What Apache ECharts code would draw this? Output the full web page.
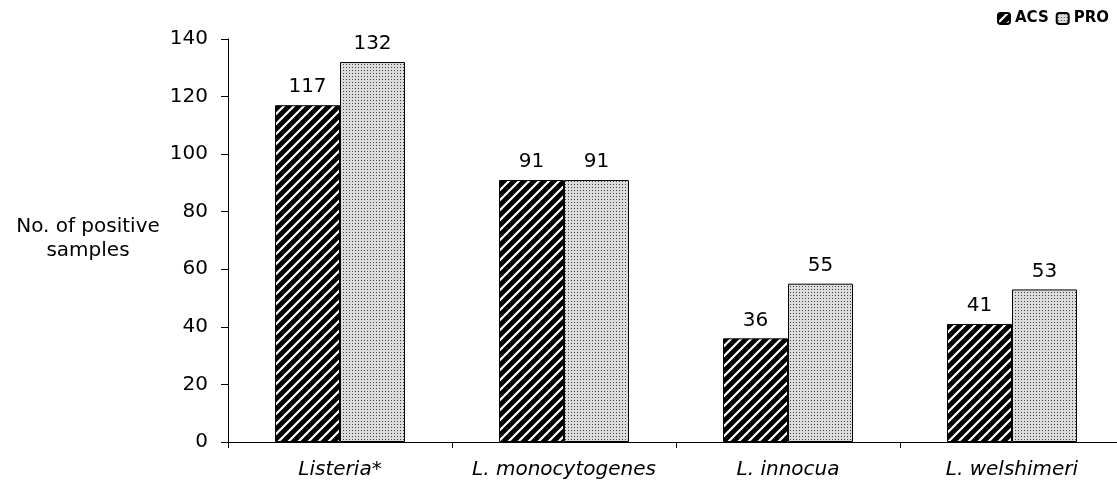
<!DOCTYPE html>
<html><head><meta charset="utf-8">
<script src="https://cdn.jsdelivr.net/npm/echarts@6/dist/echarts.min.js"></script>
<style>html,body{margin:0;padding:0;background:#fff;overflow:hidden;width:1117px;height:485px}#c{width:1140px;height:485px}</style>
</head><body><div id="c"></div>
<script>
const categories = ['Listeria*', 'L. monocytogenes', 'L. innocua', 'L. welshimeri'];
const acsValues = [117, 91, 36, 41];
const proValues = [132, 91, 55, 53];
const yTicks = [0, 20, 40, 60, 80, 100, 120, 140];

function hatch() {
  const c = document.createElement('canvas'); c.width = 10; c.height = 10;
  const g = c.getContext('2d');
  g.fillStyle = '#000'; g.fillRect(0, 0, 10, 10);
  g.strokeStyle = '#fff'; g.lineWidth = 2.2;
  g.beginPath();
  g.moveTo(-1, 11); g.lineTo(11, -1);
  g.moveTo(-11, 11); g.lineTo(1, -1);
  g.moveTo(9, 11); g.lineTo(21, -1);
  g.stroke();
  return c;
}
function dots() {
  const c = document.createElement('canvas'); c.width = 3; c.height = 3;
  const g = c.getContext('2d');
  g.fillStyle = '#dcdcdc'; g.fillRect(0, 0, 3, 3);
  g.fillStyle = '#444'; g.fillRect(1, 1, 1, 1);
  return c;
}
const chart = echarts.init(document.getElementById('c'));
const font = 'DejaVu Sans, sans-serif';
chart.setOption({
  animation: false,
  textStyle: { fontFamily: font },
  legend: {
    left: 992, top: 6, itemWidth: 12, itemHeight: 11, itemGap: 7,
    textStyle: { fontSize: 15, fontWeight: 'bold', color: '#000', fontFamily: font },
    data: ['ACS', 'PRO']
  },
  grid: { left: 228, top: 39, width: 896, height: 403 },
  xAxis: {
    type: 'category', data: categories,
    axisLine: { lineStyle: { color: '#000', width: 1 } },
    axisTick: { show: true, interval: 0, length: 6, lineStyle: { color: '#000' } },
    axisLabel: { interval: 0, fontSize: 20, fontStyle: 'italic', color: '#000', margin: 18, fontFamily: font }
  },
  yAxis: {
    type: 'value', min: 0, max: 140, interval: 20,
    axisLine: { show: true, lineStyle: { color: '#000', width: 1 } },
    axisTick: { show: true, length: 7, lineStyle: { color: '#000' } },
    splitLine: { show: false },
    axisLabel: { fontSize: 20, color: '#000', margin: 20, fontFamily: font,
      formatter: v => yTicks.includes(v) ? String(v) : '' }
  },
  graphic: [{
    type: 'text', x: 88, y: 215,
    style: { text: 'No. of positive\nsamples', font: '20px ' + font, fill: '#000', align: 'center', lineHeight: 24 }
  }],
  series: [
    { name: 'ACS', type: 'bar', data: acsValues, barWidth: 65, barGap: '0%',
      itemStyle: { color: { image: hatch(), repeat: 'repeat' }, borderColor: '#000', borderWidth: 1 },
      label: { show: true, position: 'top', distance: 8, fontSize: 20, color: '#000', fontFamily: font } },
    { name: 'PRO', type: 'bar', data: proValues, barWidth: 65, barGap: '0%',
      itemStyle: { color: { image: dots(), repeat: 'repeat' }, borderColor: '#000', borderWidth: 1 },
      label: { show: true, position: 'top', distance: 8, fontSize: 20, color: '#000', fontFamily: font } }
  ]
});
</script></body></html>
